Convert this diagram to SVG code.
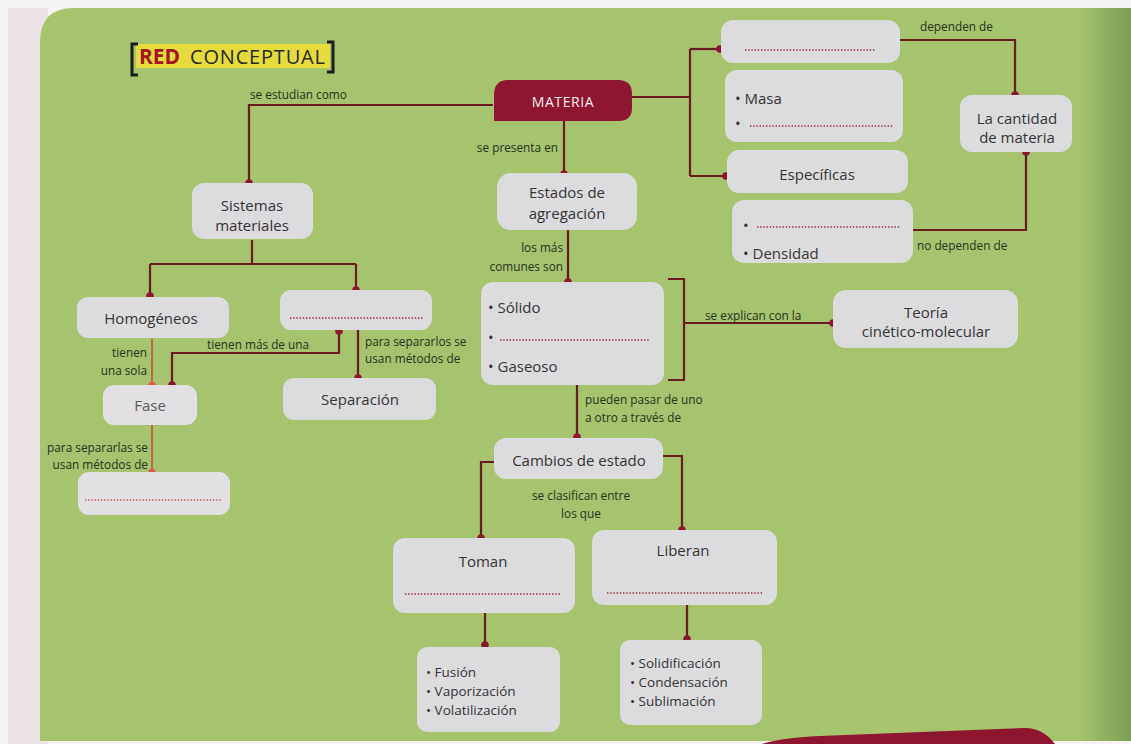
<svg xmlns="http://www.w3.org/2000/svg" width="1131" height="744" viewBox="0 0 1131 744">
<defs>
<style>
.box{fill:#dcdbdd}
.fbox{fill:#e2e0e3}
.ln{fill:none;stroke:#6a1c1c;stroke-width:2.2}
.fln{fill:none;stroke:#c0603f;stroke-width:1.8}
.dots{fill:none;stroke:#9b2838;stroke-width:1.6;stroke-dasharray:1.4 1.8}
.txt{font-family:"Open Sans","Liberation Sans",sans-serif;font-size:15px;fill:#353535}
.sm{font-size:13.5px}
.lbl{font-family:"Open Sans","Liberation Sans",sans-serif;font-size:11.8px;fill:#27321b}
.mid{text-anchor:middle}
.end{text-anchor:end}
</style>
<marker id="dot" markerWidth="9" markerHeight="9" refX="4.5" refY="4.5" markerUnits="userSpaceOnUse"><circle cx="4.5" cy="4.5" r="3.8" fill="#8e1630"/></marker>
<marker id="fdot" markerWidth="9" markerHeight="9" refX="4.5" refY="4.5" markerUnits="userSpaceOnUse"><circle cx="4.5" cy="4.5" r="3.5" fill="#d9584a"/></marker>
<linearGradient id="shade" x1="0" y1="0" x2="1" y2="0">
<stop offset="0" stop-color="#2f5a22" stop-opacity="0"/>
<stop offset="1" stop-color="#2f5a22" stop-opacity="0.35"/>
</linearGradient>
</defs>

<!-- background -->
<rect x="0" y="0" width="1131" height="744" fill="#f6f4f6"/>
<rect x="8" y="8" width="40" height="736" fill="#ebe3e8"/>
<path d="M40,42 Q40,8 74,8 H1131 V741 H40 Z" fill="#a6c36d"/>
<rect x="1080" y="8" width="51" height="733" fill="url(#shade)"/>
<path d="M762,744 Q780,738 820,736 L1025,728 Q1043,728 1055,744 Z" fill="#8e1630"/>

<!-- title -->
<g id="title">
<rect x="136" y="44" width="194" height="24" fill="#e4dc3c"/>
<path d="M138,44 H132 V75 H138" fill="none" stroke="#1d1d1d" stroke-width="3"/>
<path d="M327,42 H333 V72 H327" fill="none" stroke="#1d1d1d" stroke-width="3"/>
<text x="139" y="64" font-family="'Open Sans','Liberation Sans',sans-serif" font-size="21" fill="#a3141f" font-weight="bold">RED</text>
<text x="190" y="64" font-family="'Open Sans','Liberation Sans',sans-serif" font-size="20" fill="#2a2a2a" textLength="135">CONCEPTUAL</text>
</g>

<!-- connectors -->
<g id="connectors">
<path class="ln" d="M493,105 H249 V183" marker-end="url(#dot)"/>
<path class="ln" d="M564,121 V174" marker-end="url(#dot)"/>
<path class="ln" d="M632,97 H690 M690,49 V176"/>
<path class="ln" d="M690,49 H720" marker-end="url(#dot)"/>
<path class="ln" d="M690,176 H726" marker-end="url(#dot)"/>
<path class="ln" d="M900,40 H1015 V95" marker-end="url(#dot)"/>
<path class="ln" d="M913,230 H1026 V152" marker-end="url(#dot)"/>
<path class="ln" d="M252,240 V264 M150,264 H356"/>
<path class="ln" d="M150,264 V296" marker-end="url(#dot)"/>
<path class="ln" d="M356,264 V290" marker-end="url(#dot)"/>
<path class="fln" d="M152,339 V385" marker-end="url(#fdot)"/>
<path class="ln" d="M339,331 V353 H172 V385" marker-start="url(#dot)" marker-end="url(#dot)"/>
<path class="ln" d="M358,330 V378" marker-end="url(#dot)"/>
<path class="fln" d="M152,425 V472" marker-end="url(#fdot)"/>
<path class="ln" d="M568,230 V282" marker-end="url(#dot)"/>
<path class="ln" d="M668,279 H684 V380 H668"/>
<path class="ln" d="M684,323 H833" marker-end="url(#dot)"/>
<path class="ln" d="M577,385 V437" marker-end="url(#dot)"/>
<path class="ln" d="M495,462 H481 V538" marker-end="url(#dot)"/>
<path class="ln" d="M663,456 H682 V530" marker-end="url(#dot)"/>
<path class="ln" d="M485,613 V645" marker-end="url(#dot)"/>
<path class="ln" d="M687,605 V639" marker-end="url(#dot)"/>
</g>

<!-- connector labels -->
<g id="labels">
<text class="lbl" x="250" y="99">se estudian como</text>
<text class="lbl end" x="558" y="152">se presenta en</text>
<text class="lbl" x="920" y="31">dependen de</text>
<text class="lbl" x="917" y="250">no dependen de</text>
<text class="lbl end" x="563" y="252">los más</text>
<text class="lbl end" x="563" y="271">comunes son</text>
<text class="lbl end" x="147" y="357">tienen</text>
<text class="lbl end" x="147" y="375">una sola</text>
<text class="lbl" x="207" y="349">tienen más de una</text>
<text class="lbl" x="365" y="346">para separarlos se</text>
<text class="lbl" x="365" y="363">usan métodos de</text>
<text class="lbl end" x="148" y="452">para separarlas se</text>
<text class="lbl end" x="148" y="469">usan métodos de</text>
<text class="lbl" x="705" y="320">se explican con la</text>
<text class="lbl" x="585" y="404">pueden pasar de uno</text>
<text class="lbl" x="585" y="422">a otro a través de</text>
<text class="lbl mid" x="581" y="500">se clasifican entre</text>
<text class="lbl mid" x="581" y="518">los que</text>
</g>

<!-- nodes -->
<g id="materia">
<path d="M508,80 H618 Q632,80 632,94 V108 Q632,121 618,121 H494 V95 Q494,80 508,80 Z" fill="#8e1630"/>
<text class="txt mid" x="563" y="107" style="fill:#f4eef0;font-size:14px;letter-spacing:0.6px">MATERIA</text>
</g>

<g id="sistemas">
<rect class="box" x="192" y="183" width="121" height="56" rx="12"/>
<text class="txt mid" x="252" y="211">Sistemas</text>
<text class="txt mid" x="252" y="231">materiales</text>
</g>

<g id="homogeneos">
<rect class="box" x="77" y="297" width="152" height="41" rx="11"/>
<text class="txt mid" x="151" y="324">Homogéneos</text>
</g>

<g id="heterogeneos">
<rect class="box" x="280" y="290" width="152" height="40" rx="11"/>
<line class="dots" x1="290" y1="318" x2="423" y2="318"/>
</g>

<g id="fase">
<rect class="fbox" x="103" y="385" width="94" height="40" rx="11"/>
<text class="txt mid" x="150" y="411" style="fill:#5a5a5a">Fase</text>
</g>

<g id="separacion">
<rect class="box" x="283" y="378" width="153" height="42" rx="11"/>
<text class="txt mid" x="360" y="405">Separación</text>
</g>

<g id="metodo-homogeneos">
<rect class="fbox" x="78" y="472" width="152" height="43" rx="11"/>
<line class="dots" x1="85" y1="500" x2="222" y2="500" style="stroke:#c05a5e"/>
</g>

<g id="estados">
<rect class="box" x="497" y="173" width="140" height="57" rx="14"/>
<text class="txt mid" x="567" y="198">Estados de</text>
<text class="txt mid" x="567" y="219">agregación</text>
</g>

<g id="estados-lista">
<rect class="box" x="481" y="282" width="183" height="103" rx="12"/>
<text class="txt" x="488" y="313">• Sólido</text>
<text class="txt" x="488" y="343">•</text>
<line class="dots" x1="500" y1="340" x2="650" y2="340"/>
<text class="txt" x="488" y="372">• Gaseoso</text>
</g>

<g id="teoria">
<rect class="box" x="833" y="290" width="185" height="58" rx="13"/>
<text class="txt mid" x="926" y="318">Teoría</text>
<text class="txt mid" x="926" y="337">cinético-molecular</text>
</g>

<g id="cambios">
<rect class="box" x="494" y="438" width="169" height="41" rx="12"/>
<text class="txt mid" x="579" y="466">Cambios de estado</text>
</g>

<g id="toman">
<rect class="box" x="393" y="538" width="182" height="75" rx="12"/>
<text class="txt mid" x="483" y="567">Toman</text>
<line class="dots" x1="405" y1="594" x2="561" y2="594"/>
</g>

<g id="liberan">
<rect class="box" x="592" y="530" width="185" height="75" rx="12"/>
<text class="txt mid" x="683" y="556">Liberan</text>
<line class="dots" x1="607" y1="593" x2="763" y2="593"/>
</g>

<g id="toman-lista">
<rect class="box" x="417" y="647" width="143" height="85" rx="10"/>
<text class="txt sm" x="426" y="677">• Fusión</text>
<text class="txt sm" x="426" y="696">• Vaporización</text>
<text class="txt sm" x="426" y="715">• Volatilización</text>
</g>

<g id="liberan-lista">
<rect class="box" x="620" y="640" width="142" height="85" rx="10"/>
<text class="txt sm" x="630" y="668">• Solidificación</text>
<text class="txt sm" x="630" y="687">• Condensación</text>
<text class="txt sm" x="630" y="706">• Sublimación</text>
</g>

<g id="propiedades">
<rect class="box" x="721" y="20" width="179" height="43" rx="12"/>
<line class="dots" x1="745" y1="50" x2="876" y2="50"/>
</g>

<g id="masa">
<rect class="box" x="725" y="70" width="178" height="72" rx="12"/>
<text class="txt" x="735" y="104">• Masa</text>
<text class="txt" x="735" y="129">•</text>
<line class="dots" x1="750" y1="126" x2="893" y2="126"/>
</g>

<g id="especificas">
<rect class="box" x="727" y="150" width="181" height="43" rx="12"/>
<text class="txt mid" x="817" y="180">Específicas</text>
</g>

<g id="densidad">
<rect class="box" x="732" y="200" width="181" height="63" rx="12"/>
<text class="txt" x="743" y="231">•</text>
<line class="dots" x1="757" y1="227" x2="900" y2="227"/>
<text class="txt" x="743" y="259">•  Densidad</text>
</g>

<g id="cantidad">
<rect class="box" x="960" y="95" width="112" height="57" rx="12"/>
<text class="txt mid" x="1017" y="124">La cantidad</text>
<text class="txt mid" x="1017" y="143">de materia</text>
</g>
</svg>
